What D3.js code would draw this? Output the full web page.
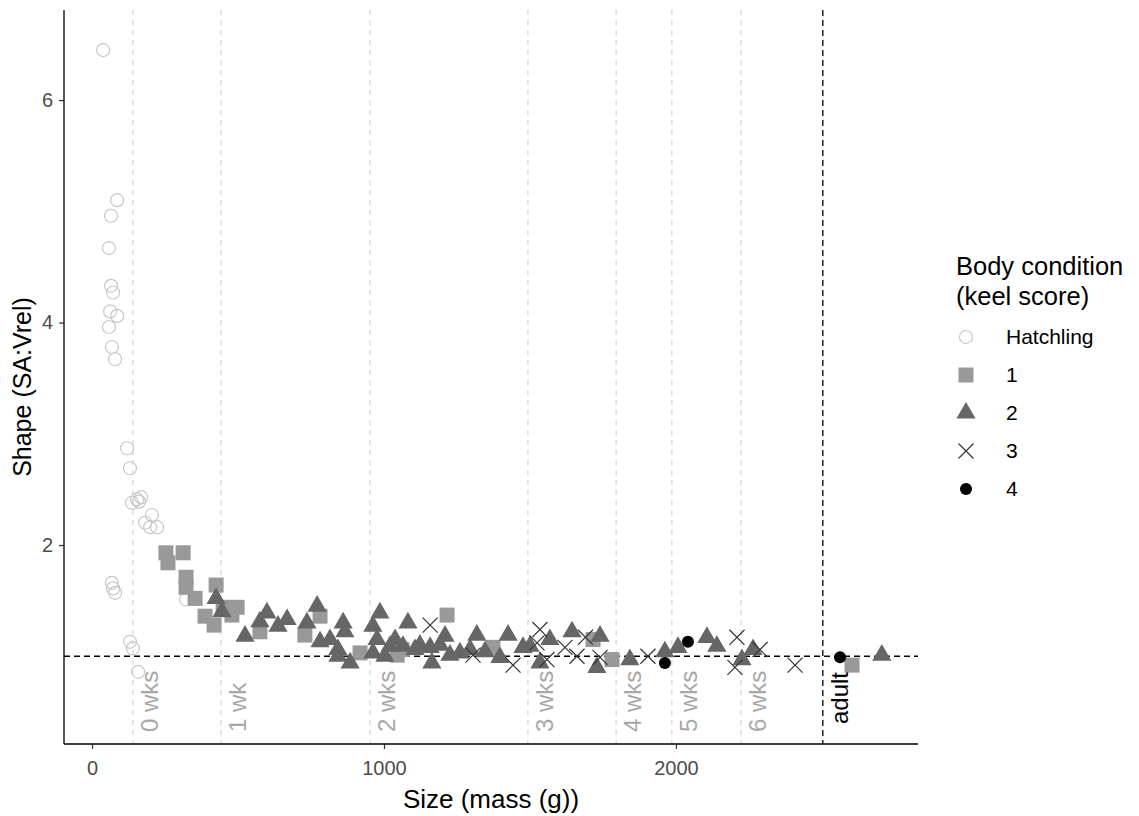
<!DOCTYPE html>
<html>
<head>
<meta charset="utf-8">
<script src="https://cdn.jsdelivr.net/npm/d3@7"></script>
<style>
  html, body { margin: 0; padding: 0; background: #ffffff; }
  svg { display: block; font-family: "Liberation Sans", Arial, sans-serif; }
</style>
</head>
<body>
<svg id="chart" width="1139" height="816"></svg>
<script>
// Mass (g) and shape (SA:Vrel) for each keel-score group
const hatchMass  = [38, 86, 65, 58, 65, 72, 62, 86, 58, 68, 79, 120, 130, 137, 154, 168, 161, 205, 182, 199, 223, 68, 72, 79, 322, 130, 140, 158];
const hatchShape = [6.45, 5.10, 4.96, 4.67, 4.33, 4.27, 4.10, 4.06, 3.96, 3.78, 3.67, 2.87, 2.69, 2.38, 2.41, 2.43, 2.39, 2.27, 2.20, 2.16, 2.16, 1.66, 1.61, 1.57, 1.51, 1.13, 1.07, 0.86];

const keel1Mass  = [253, 312, 260, 322, 322, 353, 425, 387, 418, 449, 479, 497, 575, 729, 781, 918, 1045, 1062, 1216, 1373, 1716, 1781, 2603];
const keel1Shape = [1.93, 1.93, 1.84, 1.71, 1.62, 1.52, 1.64, 1.36, 1.28, 1.44, 1.37, 1.44, 1.22, 1.19, 1.36, 1.03, 1.01, 1.06, 1.37, 1.08, 1.15, 0.97, 0.92];

const keel2Mass  = [425, 445, 524, 575, 599, 637, 668, 771, 736, 781, 815, 860, 866, 842, 842, 884, 986, 962, 976, 1021, 962, 1003, 1038, 1082, 1065, 1106, 1123, 1158, 1164, 1192, 1209, 1226, 1260, 1295, 1318, 1346, 1397, 1425, 1476, 1500, 1534, 1568, 1644, 1740, 1729, 1842, 1962, 2007, 2106, 2140, 2226, 2264, 2705];
const keel2Shape = [1.52, 1.40, 1.18, 1.31, 1.39, 1.27, 1.33, 1.45, 1.30, 1.13, 1.15, 1.30, 1.22, 1.06, 1.00, 0.94, 1.39, 1.27, 1.15, 1.09, 1.03, 1.00, 1.15, 1.30, 1.09, 1.06, 1.10, 1.08, 0.94, 1.10, 1.18, 1.01, 1.03, 1.06, 1.19, 1.04, 0.99, 1.19, 1.08, 1.09, 0.94, 1.15, 1.22, 1.18, 0.90, 0.97, 1.04, 1.08, 1.17, 1.09, 0.97, 1.06, 1.01];

const keel3Mass  = [1158, 1305, 1442, 1534, 1524, 1558, 1620, 1661, 1690, 1740, 1904, 2209, 2202, 2288, 2408];
const keel3Shape = [1.28, 1.01, 0.92, 1.24, 1.12, 0.97, 1.08, 1.00, 1.17, 0.99, 1.00, 1.17, 0.90, 1.06, 0.92];

const keel4Mass  = [1962, 2041, 2562];
const keel4Shape = [0.94, 1.13, 0.99];

// Reference markers
const weekLabels = ["0 wks", "1 wk", "2 wks", "3 wks", "4 wks", "5 wks", "6 wks"];
const weekMass   = [140, 442, 952, 1493, 1795, 1986, 2223];
const adultLabel = "adult";
const adultMass  = 2503;
const shapeRef   = 1;

const xTicks = [0, 1000, 2000];
const yTicks = [2, 4, 6];

const legendTitle  = ["Body condition", "(keel score)"];
const legendLabels = ["Hatchling", "1", "2", "3", "4"];

const svg = d3.select("#chart");
const panel = { left: 64, right: 918, top: 10, bottom: 744 };

const x = d3.scaleLinear().domain([-96, 2829]).range([panel.left, panel.right]);
const y = d3.scaleLinear().domain([0.211, 6.81]).range([panel.bottom, panel.top]);

// Marker styles per group
const styles = {
  open:   { fill: "none",    stroke: "#c8c8c8" },
  square: { fill: "#999999", stroke: "none" },
  tri:    { fill: "#666666", stroke: "none" },
  cross:  { fill: "none",    stroke: "#333333" },
  dot:    { fill: "#000000", stroke: "none" }
};

function drawMarker(g, kind, cx, cy) {
  const st = styles[kind];
  if (kind === "open") {
    g.append("circle").attr("cx", cx).attr("cy", cy).attr("r", 6.5)
      .attr("fill", "none").attr("stroke", st.stroke).attr("stroke-width", 1.2);
  } else if (kind === "square") {
    g.append("path").attr("d", d3.symbol(d3.symbolSquare, 225)())
      .attr("transform", `translate(${cx},${cy})`).attr("fill", st.fill);
  } else if (kind === "tri") {
    g.append("path").attr("d", d3.symbol(d3.symbolTriangle, 160)())
      .attr("transform", `translate(${cx},${cy})`).attr("fill", st.fill);
  } else if (kind === "cross") {
    g.append("path").attr("d", d3.symbol(d3.symbolTimes, 150)())
      .attr("transform", `translate(${cx},${cy})`)
      .attr("fill", "none").attr("stroke", st.stroke).attr("stroke-width", 1.2);
  } else if (kind === "dot") {
    g.append("circle").attr("cx", cx).attr("cy", cy).attr("r", 6)
      .attr("fill", st.fill);
  }
}

// Week guide lines
const guides = svg.append("g");
weekMass.forEach(m => {
  guides.append("line")
    .attr("x1", x(m)).attr("x2", x(m))
    .attr("y1", panel.top).attr("y2", panel.bottom)
    .attr("stroke", "#d6d6d6").attr("stroke-width", 1.2)
    .attr("stroke-dasharray", "5,5");
});
// Adult threshold
guides.append("line")
  .attr("x1", x(adultMass)).attr("x2", x(adultMass))
  .attr("y1", panel.top).attr("y2", panel.bottom)
  .attr("stroke", "#000").attr("stroke-width", 1.3)
  .attr("stroke-dasharray", "6,4");
// Shape = 1 reference
guides.append("line")
  .attr("x1", panel.left).attr("x2", panel.right)
  .attr("y1", y(shapeRef)).attr("y2", y(shapeRef))
  .attr("stroke", "#000").attr("stroke-width", 1.3)
  .attr("stroke-dasharray", "6,4");

// Points
const pts = svg.append("g");
const groups = [
  ["open", hatchMass, hatchShape],
  ["square", keel1Mass, keel1Shape],
  ["tri", keel2Mass, keel2Shape],
  ["cross", keel3Mass, keel3Shape],
  ["dot", keel4Mass, keel4Shape]
];
groups.forEach(([kind, ms, ss]) => {
  ms.forEach((m, i) => drawMarker(pts, kind, x(m), y(ss[i])));
});

// Week labels (rotated)
const labels = svg.append("g").attr("font-size", 24);
weekMass.forEach((m, i) => {
  labels.append("text")
    .attr("transform", `translate(${x(m) + 25},732) rotate(-90)`)
    .attr("fill", "#a8a8a8")
    .text(weekLabels[i]);
});
labels.append("text")
  .attr("transform", `translate(${x(adultMass) + 25},724) rotate(-90)`)
  .attr("fill", "#000")
  .text(adultLabel);

// Axes
const xAxis = svg.append("g")
  .attr("transform", `translate(0,${panel.bottom})`)
  .call(d3.axisBottom(x).tickValues(xTicks).tickFormat(d3.format("d"))
    .tickSize(5).tickSizeOuter(0).tickPadding(12));
const yAxis = svg.append("g")
  .attr("transform", `translate(${panel.left},0)`)
  .call(d3.axisLeft(y).tickValues(yTicks).tickFormat(d3.format("d"))
    .tickSize(5).tickSizeOuter(0).tickPadding(6));

[xAxis, yAxis].forEach(a => {
  a.select(".domain").remove();
  a.selectAll(".tick line").attr("stroke", "#333333").attr("stroke-width", 1.2);
  a.selectAll(".tick text").attr("fill", "#4d4d4d").attr("font-size", 20)
    .attr("font-family", "Liberation Sans, Arial, sans-serif");
});
// Axis lines
svg.append("line").attr("x1", panel.left).attr("x2", panel.right)
  .attr("y1", panel.bottom).attr("y2", panel.bottom)
  .attr("stroke", "#000").attr("stroke-width", 1.3);
svg.append("line").attr("x1", panel.left).attr("x2", panel.left)
  .attr("y1", panel.top).attr("y2", panel.bottom)
  .attr("stroke", "#000").attr("stroke-width", 1.3);

// Axis titles
svg.append("text")
  .attr("x", (panel.left + panel.right) / 2).attr("y", 808)
  .attr("text-anchor", "middle").attr("font-size", 26).attr("fill", "#000")
  .text("Size (mass (g))");
svg.append("text")
  .attr("transform", `translate(31,${(panel.top + panel.bottom) / 2 + 10}) rotate(-90)`)
  .attr("text-anchor", "middle").attr("font-size", 25).attr("fill", "#000")
  .text("Shape (SA:Vrel)");

// Legend
const legend = svg.append("g");
legendTitle.forEach((t, i) => {
  legend.append("text").attr("x", 956).attr("y", 275 + i * 30)
    .attr("font-size", 25.5).attr("fill", "#000").text(t);
});
const keyKinds = ["open", "square", "tri", "cross", "dot"];
legendLabels.forEach((t, i) => {
  const ky = 337 + i * 38;
  drawMarker(legend, keyKinds[i], 966, ky);
  legend.append("text").attr("x", 1006).attr("y", ky + 7)
    .attr("font-size", 21).attr("fill", "#000").text(t);
});
</script>
</body>
</html>
